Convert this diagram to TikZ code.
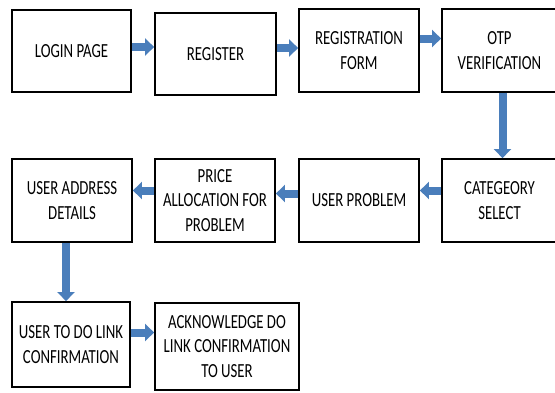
\documentclass[tikz,border=0pt]{standalone}
\usepackage{fontspec}
\setmainfont{Carlito}[FakeStretch=0.74]
\usepackage{tikz}
\usetikzlibrary{arrows.meta}
\definecolor{flowblue}{RGB}{74,126,187}

\begin{document}
\begin{tikzpicture}[x=1pt, y=-1pt, font=\fontsize{20}{24.5}\selectfont,
    box/.style = {draw, line width=1.8pt, align=center, inner sep=2pt},
    flow/.style = {flowblue, line width=8pt, -{Triangle[width=17pt, length=9pt]}}]
                \useasboundingbox[fill=white] (0,0) rectangle (555,392);
                % top row
                \node[box, minimum width=119pt, minimum height=82pt] (login) at (71.5,51) {LOGIN PAGE};
                \node[box, minimum width=121pt, minimum height=82pt] (reg) at (215.5,54) {REGISTER};
                \node[box, minimum width=120pt, minimum height=83pt] (form) at (359,50.5) {REGISTRATION\\FORM};
                \node[box, minimum width=115pt, minimum height=83pt] (otp) at (499.5,50.5) {OTP\\VERIFICATION};
                % middle row
                \node[box, minimum width=115pt, minimum height=83pt] (cat) at (499.5,200.5) {CATEGEORY\\SELECT};
                \node[box, minimum width=120pt, minimum height=83pt] (prob) at (359,200.5) {USER PROBLEM};
                \node[box, minimum width=120pt, minimum height=83pt] (price) at (215,200.5) {PRICE\\ALLOCATION FOR\\PROBLEM};
                \node[box, minimum width=120pt, minimum height=83pt] (addr) at (72,200.5) {USER ADDRESS\\DETAILS};
                % bottom row
                \node[box, minimum width=118pt, minimum height=85pt] (link) at (71,344.5) {USER TO DO LINK\\CONFIRMATION};
                \node[box, minimum width=144pt, minimum height=87pt] (ack) at (227,346.5) {ACKNOWLEDGE DO\\LINK CONFIRMATION\\TO USER};
                % connectors
                \draw[flow] ([yshift=4pt]login.east) -- ([yshift=4pt]login.east -| reg.west);
                \draw[flow] ([yshift=6pt]reg.east) -- ([yshift=6pt]reg.east -| form.west);
                \draw[flow] ([yshift=12pt]form.east) -- ([yshift=12pt]form.east -| otp.west);
                \draw[flow] ([xshift=3pt]otp.south) -- ([xshift=3pt]otp.south |- cat.north);
                \draw[flow] ([yshift=10pt]cat.west) -- ([yshift=10pt]cat.west -| prob.east);
                \draw[flow] ([yshift=7pt]prob.west) -- ([yshift=7pt]prob.west -| price.east);
                \draw[flow] ([yshift=10pt]price.west) -- ([yshift=10pt]price.west -| addr.east);
                \draw[flow] ([xshift=-6pt]addr.south) -- ([xshift=-6pt]addr.south |- link.north);
                \draw[flow] ([yshift=12pt]link.east) -- ([yshift=12pt]link.east -| ack.west);
            \end{tikzpicture}
\end{document}
